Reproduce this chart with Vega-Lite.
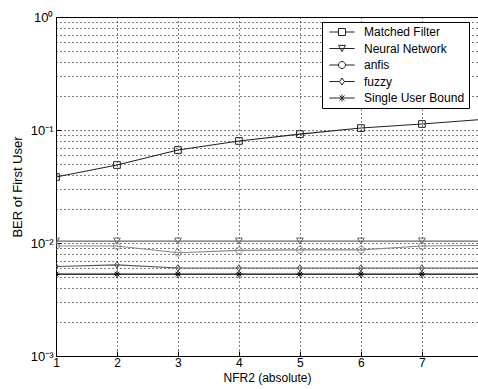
{
  "$schema": "https://vega.github.io/schema/vega-lite/v6.json",
  "autosize": {"type": "none"},
  "width": 422,
  "height": 339,
  "padding": {"left": 56, "top": 17, "right": 0, "bottom": 33},
  "background": "white",
  "config": {
    "font": "Liberation Sans",
    "view": {"stroke": "black", "strokeWidth": 1},
    "axis": {
      "labelFont": "Liberation Sans", "labelFontSize": 12, "labelColor": "black",
      "titleFont": "Liberation Sans", "titleFontSize": 12, "titleFontWeight": "normal", "titleColor": "black",
      "domainColor": "black", "tickColor": "black", "gridColor": "black", "gridDash": [1, 3], "gridOpacity": 1, "gridWidth": 1
    }
  },
  "data": {
    "values": [
      {"x": 1, "ber": 0.0384, "s": "Matched Filter"},
      {"x": 2, "ber": 0.049, "s": "Matched Filter"},
      {"x": 3, "ber": 0.0665, "s": "Matched Filter"},
      {"x": 4, "ber": 0.080, "s": "Matched Filter"},
      {"x": 5, "ber": 0.092, "s": "Matched Filter"},
      {"x": 6, "ber": 0.104, "s": "Matched Filter"},
      {"x": 7, "ber": 0.113, "s": "Matched Filter"},
      {"x": 8, "ber": 0.124, "s": "Matched Filter"},
      {"x": 1, "ber": 0.0104, "s": "Neural Network"},
      {"x": 2, "ber": 0.0104, "s": "Neural Network"},
      {"x": 3, "ber": 0.0104, "s": "Neural Network"},
      {"x": 4, "ber": 0.0104, "s": "Neural Network"},
      {"x": 5, "ber": 0.0104, "s": "Neural Network"},
      {"x": 6, "ber": 0.0104, "s": "Neural Network"},
      {"x": 7, "ber": 0.0104, "s": "Neural Network"},
      {"x": 8, "ber": 0.0104, "s": "Neural Network"},
      {"x": 1, "ber": 0.0094, "s": "anfis"},
      {"x": 2, "ber": 0.0094, "s": "anfis"},
      {"x": 3, "ber": 0.0082, "s": "anfis"},
      {"x": 4, "ber": 0.0086, "s": "anfis"},
      {"x": 5, "ber": 0.0087, "s": "anfis"},
      {"x": 6, "ber": 0.0087, "s": "anfis"},
      {"x": 7, "ber": 0.0094, "s": "anfis"},
      {"x": 8, "ber": 0.0095, "s": "anfis"},
      {"x": 1, "ber": 0.0062, "s": "fuzzy"},
      {"x": 2, "ber": 0.0064, "s": "fuzzy"},
      {"x": 3, "ber": 0.0060, "s": "fuzzy"},
      {"x": 4, "ber": 0.0060, "s": "fuzzy"},
      {"x": 5, "ber": 0.0060, "s": "fuzzy"},
      {"x": 6, "ber": 0.0060, "s": "fuzzy"},
      {"x": 7, "ber": 0.0060, "s": "fuzzy"},
      {"x": 8, "ber": 0.0060, "s": "fuzzy"},
      {"x": 1, "ber": 0.0053, "s": "Single User Bound"},
      {"x": 2, "ber": 0.0053, "s": "Single User Bound"},
      {"x": 3, "ber": 0.0053, "s": "Single User Bound"},
      {"x": 4, "ber": 0.0053, "s": "Single User Bound"},
      {"x": 5, "ber": 0.0053, "s": "Single User Bound"},
      {"x": 6, "ber": 0.0053, "s": "Single User Bound"},
      {"x": 7, "ber": 0.0053, "s": "Single User Bound"},
      {"x": 8, "ber": 0.0053, "s": "Single User Bound"}
    ]
  },
  "encoding": {
    "x": {
      "field": "x", "type": "quantitative",
      "scale": {"domain": [1, 7.92], "nice": false, "zero": false},
      "axis": {"values": [1, 2, 3, 4, 5, 6, 7], "title": "NFR2 (absolute)", "tickSize": -5, "labelPadding": 6, "titlePadding": 4, "format": "d", "labelFlush": false}
    },
    "y": {
      "field": "ber", "type": "quantitative",
      "scale": {"type": "log", "domain": [0.001, 1], "nice": false},
      "axis": {
        "values": [0.001, 0.002, 0.003, 0.004, 0.005, 0.006, 0.007, 0.008, 0.009, 0.01, 0.02, 0.03, 0.04, 0.05, 0.06, 0.07, 0.08, 0.09, 0.1, 0.2, 0.3, 0.4, 0.5, 0.6, 0.7, 0.8, 0.9, 1],
        "labelExpr": "datum.value == 1 ? '10⁰' : abs(datum.value - 0.1) < 1e-9 ? '10⁻¹' : abs(datum.value - 0.01) < 1e-9 ? '10⁻²' : abs(datum.value - 0.001) < 1e-9 ? '10⁻³' : ''",
        "tickSize": -5,
        "tickOpacity": {"condition": {"test": "abs(log(datum.value)/LN10 - round(log(datum.value)/LN10)) < 0.001", "value": 1}, "value": 0},
        "labelPadding": 8,
        "labelFontSize": 13,
        "title": "BER of First User",
        "titleFontSize": 13,
        "titlePadding": 6
      }
    },
    "color": {
      "field": "s", "type": "nominal",
      "scale": {"domain": ["Matched Filter", "Neural Network", "anfis", "fuzzy", "Single User Bound"], "range": ["#222222", "#666666", "#888888", "#555555", "#000000"]},
      "legend": null
    }
  },
  "layer": [
    {
      "mark": {"type": "line", "strokeWidth": 1.1, "clip": true},
      "encoding": {"detail": {"field": "s"}}
    },
    {
      "mark": {"type": "point", "filled": false, "strokeWidth": 1, "size": 45, "clip": true, "opacity": 1},
      "encoding": {
        "shape": {
          "field": "s", "type": "nominal",
          "scale": {
            "domain": ["Matched Filter", "Neural Network", "anfis", "fuzzy", "Single User Bound"],
            "range": [
              "M-1,-1H1V1H-1Z",
              "M-1,-0.9H1L0,0.9Z",
              "M-1,0A1,1 0 1,0 1,0A1,1 0 1,0 -1,0Z",
              "M0,-1L0.7,0L0,1L-0.7,0Z",
              "M-1,0H1M0,-1V1M-0.7,-0.7L0.7,0.7M-0.7,0.7L0.7,-0.7"
            ]
          },
          "legend": null
        }
      }
    },
    {
      "mark": {"type": "point", "filled": false, "strokeWidth": 1, "size": 49, "clip": true, "opacity": 0},
      "encoding": {
        "color": {"value": "#222222"},
        "shape": {
          "field": "s", "type": "nominal",
          "scale": {
            "domain": ["Matched Filter", "Neural Network", "anfis", "fuzzy", "Single User Bound"],
            "range": [
              "M-3.6,0H-1M1,0H3.6M-1,-1H1V1H-1Z",
              "M-3.6,0H3.6M-1,-0.9H1L0,0.9Z",
              "M-3.6,0H-1M1,0H3.6M-1,0A1,1 0 1,0 1,0A1,1 0 1,0 -1,0Z",
              "M-3.6,0H-0.7M0.7,0H3.6M0,-1L0.7,0L0,1L-0.7,0Z",
              "M-3.6,0H3.6M0,-1V1M-0.7,-0.7L0.7,0.7M-0.7,0.7L0.7,-0.7"
            ]
          },
          "legend": {
            "title": null,
            "orient": "none",
            "legendX": 266,
            "legendY": 5,
            "fillColor": "white",
            "strokeColor": "black",
            "padding": 4,
            "rowPadding": 4.5,
            "labelFont": "Liberation Sans",
            "labelFontSize": 12,
            "labelColor": "black",
            "labelOffset": 16,
            "symbolOffset": 10,
            "symbolSize": 49,
            "symbolStrokeWidth": 1,
            "symbolStrokeColor": "#222222",
            "symbolFillColor": "transparent",
            "symbolOpacity": 1
          }
        }
      }
    }
  ],
  "resolve": {"scale": {"shape": "independent"}, "legend": {"shape": "independent"}}
}
